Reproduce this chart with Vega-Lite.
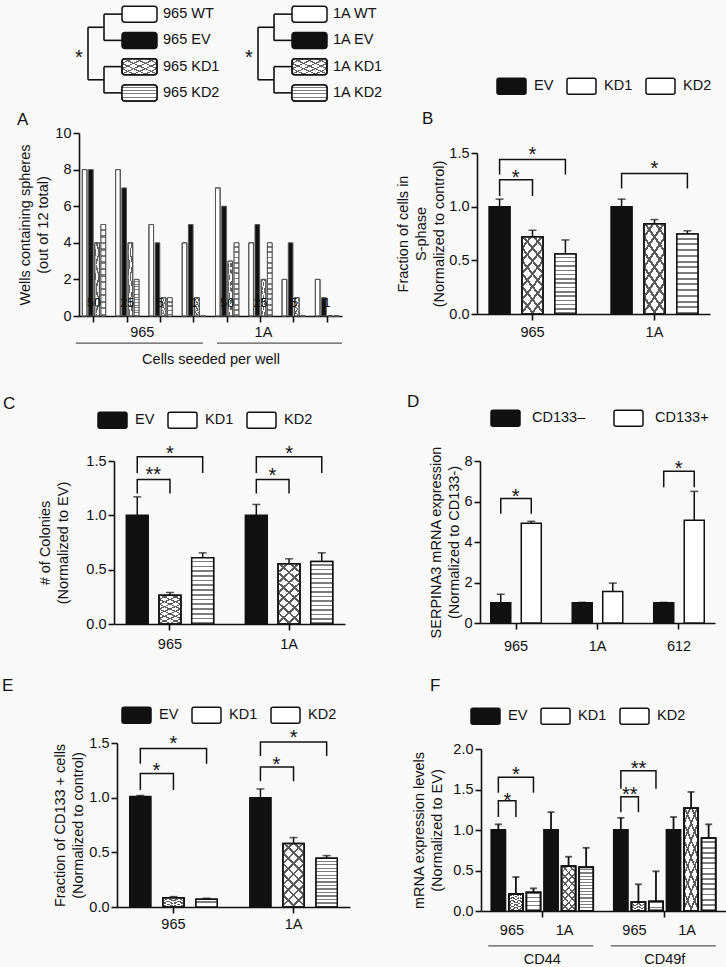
{
"$schema": "https://vega.github.io/schema/vega-lite/v6.json",
"background": "#f9f9f9",
"padding": {"left": 79, "top": 0, "right": 647, "bottom": 967},
"autosize": {"type": "none"},
"columns": 2,
"bounds": "flush",
"align": "each",
"spacing": {"row": 0, "column": 127},
"resolve": {"scale": {"fill": "independent", "xOffset": "independent"}, "legend": {"fill": "independent"}},
"params": [
  {"name": "gStripes", "value": {"gradient": "linear", "x1": 0, "y1": 0, "x2": 0, "y2": 1, "stops": [
      {"offset":0,"color":"#ffffff"},{"offset":0.0464,"color":"#ffffff"},{"offset":0.0464,"color":"#7d7d7d"},{"offset":0.0714,"color":"#7d7d7d"},
      {"offset":0.0714,"color":"#ffffff"},{"offset":0.1178,"color":"#ffffff"},{"offset":0.1178,"color":"#7d7d7d"},{"offset":0.1429,"color":"#7d7d7d"},
      {"offset":0.1429,"color":"#ffffff"},{"offset":0.1893,"color":"#ffffff"},{"offset":0.1893,"color":"#7d7d7d"},{"offset":0.2143,"color":"#7d7d7d"},
      {"offset":0.2143,"color":"#ffffff"},{"offset":0.2607,"color":"#ffffff"},{"offset":0.2607,"color":"#7d7d7d"},{"offset":0.2857,"color":"#7d7d7d"},
      {"offset":0.2857,"color":"#ffffff"},{"offset":0.3321,"color":"#ffffff"},{"offset":0.3321,"color":"#7d7d7d"},{"offset":0.3571,"color":"#7d7d7d"},
      {"offset":0.3571,"color":"#ffffff"},{"offset":0.4035,"color":"#ffffff"},{"offset":0.4035,"color":"#7d7d7d"},{"offset":0.4286,"color":"#7d7d7d"},
      {"offset":0.4286,"color":"#ffffff"},{"offset":0.475,"color":"#ffffff"},{"offset":0.475,"color":"#7d7d7d"},{"offset":0.5,"color":"#7d7d7d"},
      {"offset":0.5,"color":"#ffffff"},{"offset":0.5464,"color":"#ffffff"},{"offset":0.5464,"color":"#7d7d7d"},{"offset":0.5714,"color":"#7d7d7d"},
      {"offset":0.5714,"color":"#ffffff"},{"offset":0.6178,"color":"#ffffff"},{"offset":0.6178,"color":"#7d7d7d"},{"offset":0.6429,"color":"#7d7d7d"},
      {"offset":0.6429,"color":"#ffffff"},{"offset":0.6893,"color":"#ffffff"},{"offset":0.6893,"color":"#7d7d7d"},{"offset":0.7143,"color":"#7d7d7d"},
      {"offset":0.7143,"color":"#ffffff"},{"offset":0.7607,"color":"#ffffff"},{"offset":0.7607,"color":"#7d7d7d"},{"offset":0.7857,"color":"#7d7d7d"},
      {"offset":0.7857,"color":"#ffffff"},{"offset":0.8321,"color":"#ffffff"},{"offset":0.8321,"color":"#7d7d7d"},{"offset":0.8571,"color":"#7d7d7d"},
      {"offset":0.8571,"color":"#ffffff"},{"offset":0.9035,"color":"#ffffff"},{"offset":0.9035,"color":"#7d7d7d"},{"offset":0.9286,"color":"#7d7d7d"},
      {"offset":0.9286,"color":"#ffffff"},{"offset":0.975,"color":"#ffffff"},{"offset":0.975,"color":"#7d7d7d"},{"offset":1,"color":"#7d7d7d"}]}},
  {"name": "gStripesS", "value": {"gradient": "linear", "x1": 0, "y1": 0, "x2": 0, "y2": 1, "stops": [
      {"offset":0,"color":"#ffffff"},{"offset":0.13,"color":"#ffffff"},{"offset":0.13,"color":"#7d7d7d"},{"offset":0.2,"color":"#7d7d7d"},
      {"offset":0.2,"color":"#ffffff"},{"offset":0.33,"color":"#ffffff"},{"offset":0.33,"color":"#7d7d7d"},{"offset":0.4,"color":"#7d7d7d"},
      {"offset":0.4,"color":"#ffffff"},{"offset":0.53,"color":"#ffffff"},{"offset":0.53,"color":"#7d7d7d"},{"offset":0.6,"color":"#7d7d7d"},
      {"offset":0.6,"color":"#ffffff"},{"offset":0.73,"color":"#ffffff"},{"offset":0.73,"color":"#7d7d7d"},{"offset":0.8,"color":"#7d7d7d"},
      {"offset":0.8,"color":"#ffffff"},{"offset":0.93,"color":"#ffffff"},{"offset":0.93,"color":"#7d7d7d"},{"offset":1,"color":"#7d7d7d"}]}},
  {"name": "gHatch1", "value": {"gradient": "linear", "x1": 0, "y1": 0, "x2": 1, "y2": 1, "stops": [
      {"offset":0,"color":"rgba(255,255,255,0)"},{"offset":0.13,"color":"rgba(255,255,255,0)"},{"offset":0.13,"color":"#606060"},{"offset":0.1667,"color":"#606060"},
      {"offset":0.1667,"color":"rgba(255,255,255,0)"},{"offset":0.2967,"color":"rgba(255,255,255,0)"},{"offset":0.2967,"color":"#606060"},{"offset":0.3333,"color":"#606060"},
      {"offset":0.3333,"color":"rgba(255,255,255,0)"},{"offset":0.4633,"color":"rgba(255,255,255,0)"},{"offset":0.4633,"color":"#606060"},{"offset":0.5,"color":"#606060"},
      {"offset":0.5,"color":"rgba(255,255,255,0)"},{"offset":0.63,"color":"rgba(255,255,255,0)"},{"offset":0.63,"color":"#606060"},{"offset":0.6667,"color":"#606060"},
      {"offset":0.6667,"color":"rgba(255,255,255,0)"},{"offset":0.7967,"color":"rgba(255,255,255,0)"},{"offset":0.7967,"color":"#606060"},{"offset":0.8333,"color":"#606060"},
      {"offset":0.8333,"color":"rgba(255,255,255,0)"},{"offset":0.9633,"color":"rgba(255,255,255,0)"},{"offset":0.9633,"color":"#606060"},{"offset":1,"color":"#606060"}]}},
  {"name": "gHatch2", "value": {"gradient": "linear", "x1": 1, "y1": 0, "x2": 0, "y2": 1, "stops": [
      {"offset":0,"color":"rgba(255,255,255,0)"},{"offset":0.13,"color":"rgba(255,255,255,0)"},{"offset":0.13,"color":"#606060"},{"offset":0.1667,"color":"#606060"},
      {"offset":0.1667,"color":"rgba(255,255,255,0)"},{"offset":0.2967,"color":"rgba(255,255,255,0)"},{"offset":0.2967,"color":"#606060"},{"offset":0.3333,"color":"#606060"},
      {"offset":0.3333,"color":"rgba(255,255,255,0)"},{"offset":0.4633,"color":"rgba(255,255,255,0)"},{"offset":0.4633,"color":"#606060"},{"offset":0.5,"color":"#606060"},
      {"offset":0.5,"color":"rgba(255,255,255,0)"},{"offset":0.63,"color":"rgba(255,255,255,0)"},{"offset":0.63,"color":"#606060"},{"offset":0.6667,"color":"#606060"},
      {"offset":0.6667,"color":"rgba(255,255,255,0)"},{"offset":0.7967,"color":"rgba(255,255,255,0)"},{"offset":0.7967,"color":"#606060"},{"offset":0.8333,"color":"#606060"},
      {"offset":0.8333,"color":"rgba(255,255,255,0)"},{"offset":0.9633,"color":"rgba(255,255,255,0)"},{"offset":0.9633,"color":"#606060"},{"offset":1,"color":"#606060"}]}},
  {"name": "gHatchT1", "value": {"gradient": "linear", "x1": 0, "y1": 0, "x2": 0.4, "y2": 1.2, "stops": [
      {"offset":0,"color":"rgba(255,255,255,0)"},{"offset":0.094,"color":"rgba(255,255,255,0)"},{"offset":0.094,"color":"#5a5a5a"},{"offset":0.125,"color":"#5a5a5a"},
      {"offset":0.125,"color":"rgba(255,255,255,0)"},{"offset":0.219,"color":"rgba(255,255,255,0)"},{"offset":0.219,"color":"#5a5a5a"},{"offset":0.25,"color":"#5a5a5a"},
      {"offset":0.25,"color":"rgba(255,255,255,0)"},{"offset":0.344,"color":"rgba(255,255,255,0)"},{"offset":0.344,"color":"#5a5a5a"},{"offset":0.375,"color":"#5a5a5a"},
      {"offset":0.375,"color":"rgba(255,255,255,0)"},{"offset":0.469,"color":"rgba(255,255,255,0)"},{"offset":0.469,"color":"#5a5a5a"},{"offset":0.5,"color":"#5a5a5a"},
      {"offset":0.5,"color":"rgba(255,255,255,0)"},{"offset":0.594,"color":"rgba(255,255,255,0)"},{"offset":0.594,"color":"#5a5a5a"},{"offset":0.625,"color":"#5a5a5a"},
      {"offset":0.625,"color":"rgba(255,255,255,0)"},{"offset":0.719,"color":"rgba(255,255,255,0)"},{"offset":0.719,"color":"#5a5a5a"},{"offset":0.75,"color":"#5a5a5a"},
      {"offset":0.75,"color":"rgba(255,255,255,0)"},{"offset":0.844,"color":"rgba(255,255,255,0)"},{"offset":0.844,"color":"#5a5a5a"},{"offset":0.875,"color":"#5a5a5a"},
      {"offset":0.875,"color":"rgba(255,255,255,0)"},{"offset":0.969,"color":"rgba(255,255,255,0)"},{"offset":0.969,"color":"#5a5a5a"},{"offset":1,"color":"#5a5a5a"}]}},
  {"name": "gHatchT2", "value": {"gradient": "linear", "x1": 1, "y1": 0, "x2": 0.6, "y2": 1.2, "stops": [
      {"offset":0,"color":"rgba(255,255,255,0)"},{"offset":0.094,"color":"rgba(255,255,255,0)"},{"offset":0.094,"color":"#5a5a5a"},{"offset":0.125,"color":"#5a5a5a"},
      {"offset":0.125,"color":"rgba(255,255,255,0)"},{"offset":0.219,"color":"rgba(255,255,255,0)"},{"offset":0.219,"color":"#5a5a5a"},{"offset":0.25,"color":"#5a5a5a"},
      {"offset":0.25,"color":"rgba(255,255,255,0)"},{"offset":0.344,"color":"rgba(255,255,255,0)"},{"offset":0.344,"color":"#5a5a5a"},{"offset":0.375,"color":"#5a5a5a"},
      {"offset":0.375,"color":"rgba(255,255,255,0)"},{"offset":0.469,"color":"rgba(255,255,255,0)"},{"offset":0.469,"color":"#5a5a5a"},{"offset":0.5,"color":"#5a5a5a"},
      {"offset":0.5,"color":"rgba(255,255,255,0)"},{"offset":0.594,"color":"rgba(255,255,255,0)"},{"offset":0.594,"color":"#5a5a5a"},{"offset":0.625,"color":"#5a5a5a"},
      {"offset":0.625,"color":"rgba(255,255,255,0)"},{"offset":0.719,"color":"rgba(255,255,255,0)"},{"offset":0.719,"color":"#5a5a5a"},{"offset":0.75,"color":"#5a5a5a"},
      {"offset":0.75,"color":"rgba(255,255,255,0)"},{"offset":0.844,"color":"rgba(255,255,255,0)"},{"offset":0.844,"color":"#5a5a5a"},{"offset":0.875,"color":"#5a5a5a"},
      {"offset":0.875,"color":"rgba(255,255,255,0)"},{"offset":0.969,"color":"rgba(255,255,255,0)"},{"offset":0.969,"color":"#5a5a5a"},{"offset":1,"color":"#5a5a5a"}]}}
],
"config": {
  "font": "Liberation Sans",
  "view": {"stroke": null},
  "axis": {"domainColor": "#111111", "domainWidth": 1.6, "tickColor": "#111111", "tickWidth": 1.6, "tickSize": 6, "labelFont": "Liberation Sans", "labelFontSize": 14.5, "labelColor": "#111111", "labelPadding": 2, "titleFont": "Liberation Sans", "titleFontSize": 14.5, "titleFontWeight": "normal", "titleColor": "#111111", "titleLineHeight": 18, "grid": false, "labelAngle": 0},
  "legend": {"orient": "none", "direction": "horizontal", "columns": 3, "symbolType": "M-0.86,-0.55L0.86,-0.55Q1,-0.55,1,-0.41L1,0.41Q1,0.55,0.86,0.55L-0.86,0.55Q-1,0.55,-1,0.41L-1,-0.41Q-1,-0.55,-0.86,-0.55Z", "symbolSize": 841, "labelOffset": 7, "columnPadding": 10, "symbolStrokeColor": "#111111", "symbolStrokeWidth": 1.5, "labelFont": "Liberation Sans", "labelFontSize": 14.5, "labelColor": "#111111", "padding": 0},
  "title": {"font": "Liberation Sans", "fontSize": 17, "fontWeight": "normal", "color": "#111111", "anchor": "start", "frame": "group", "baseline": "middle"},
  "text": {"font": "Liberation Sans", "color": "#111111", "fontSize": 14.5}
},
"datasets": {
  "den": [
    {"line":"965","cond":"WT","label":"965 WT"},{"line":"965","cond":"EV","label":"965 EV"},{"line":"965","cond":"KD1","label":"965 KD1"},{"line":"965","cond":"KD2","label":"965 KD2"},
    {"line":"1A","cond":"WT","label":"1A WT"},{"line":"1A","cond":"EV","label":"1A EV"},{"line":"1A","cond":"KD1","label":"1A KD1"},{"line":"1A","cond":"KD2","label":"1A KD2"}],
  "denm": [
    {"line":"965","a":"WT","b":"EV","lvl":"mid"},{"line":"965","a":"KD1","b":"KD2","lvl":"mid"},{"line":"965","a":"EV","b":"KD2","lvl":"root"},
    {"line":"1A","a":"WT","b":"EV","lvl":"mid"},{"line":"1A","a":"KD1","b":"KD2","lvl":"mid"},{"line":"1A","a":"EV","b":"KD2","lvl":"root"}],
  "A": [
    {"grp":"965|50","line":"965","count":"50","cond":"WT","val":8},{"grp":"965|50","line":"965","count":"50","cond":"EV","val":8},{"grp":"965|50","line":"965","count":"50","cond":"KD1","val":4},{"grp":"965|50","line":"965","count":"50","cond":"KD2","val":5},
    {"grp":"965|25","line":"965","count":"25","cond":"WT","val":8},{"grp":"965|25","line":"965","count":"25","cond":"EV","val":7},{"grp":"965|25","line":"965","count":"25","cond":"KD1","val":4},{"grp":"965|25","line":"965","count":"25","cond":"KD2","val":2},
    {"grp":"965|5","line":"965","count":"5","cond":"WT","val":5},{"grp":"965|5","line":"965","count":"5","cond":"EV","val":4},{"grp":"965|5","line":"965","count":"5","cond":"KD1","val":1},{"grp":"965|5","line":"965","count":"5","cond":"KD2","val":1},
    {"grp":"965|1","line":"965","count":"1","cond":"WT","val":4},{"grp":"965|1","line":"965","count":"1","cond":"EV","val":5},{"grp":"965|1","line":"965","count":"1","cond":"KD1","val":1},{"grp":"965|1","line":"965","count":"1","cond":"KD2","val":0},
    {"grp":"1A|50","line":"1A","count":"50","cond":"WT","val":7},{"grp":"1A|50","line":"1A","count":"50","cond":"EV","val":6},{"grp":"1A|50","line":"1A","count":"50","cond":"KD1","val":3},{"grp":"1A|50","line":"1A","count":"50","cond":"KD2","val":4},
    {"grp":"1A|25","line":"1A","count":"25","cond":"WT","val":4},{"grp":"1A|25","line":"1A","count":"25","cond":"EV","val":5},{"grp":"1A|25","line":"1A","count":"25","cond":"KD1","val":2},{"grp":"1A|25","line":"1A","count":"25","cond":"KD2","val":4},
    {"grp":"1A|5","line":"1A","count":"5","cond":"WT","val":2},{"grp":"1A|5","line":"1A","count":"5","cond":"EV","val":4},{"grp":"1A|5","line":"1A","count":"5","cond":"KD1","val":1},{"grp":"1A|5","line":"1A","count":"5","cond":"KD2","val":0},
    {"grp":"1A|1","line":"1A","count":"1","cond":"WT","val":2},{"grp":"1A|1","line":"1A","count":"1","cond":"EV","val":1},{"grp":"1A|1","line":"1A","count":"1","cond":"KD1","val":0},{"grp":"1A|1","line":"1A","count":"1","cond":"KD2","val":0}],
  "B": [
    {"line":"965","cond":"EV","val":1.0,"err":1.07},{"line":"965","cond":"KD1","val":0.72,"err":0.78},{"line":"965","cond":"KD2","val":0.56,"err":0.69},
    {"line":"1A","cond":"EV","val":1.0,"err":1.07},{"line":"1A","cond":"KD1","val":0.84,"err":0.88},{"line":"1A","cond":"KD2","val":0.745,"err":0.775}],
  "Bbr": [
    {"bid":"b1","line":"965","cond":"EV","yv":1.10,"k":0},{"bid":"b1","line":"965","cond":"EV","yv":1.25,"k":1},{"bid":"b1","line":"965","cond":"KD1","yv":1.25,"k":2},{"bid":"b1","line":"965","cond":"KD1","yv":1.10,"k":3},
    {"bid":"b2","line":"965","cond":"EV","yv":1.30,"k":0},{"bid":"b2","line":"965","cond":"EV","yv":1.44,"k":1},{"bid":"b2","line":"965","cond":"KD2","yv":1.44,"k":2},{"bid":"b2","line":"965","cond":"KD2","yv":1.30,"k":3},
    {"bid":"b3","line":"1A","cond":"EV","yv":1.17,"k":0},{"bid":"b3","line":"1A","cond":"EV","yv":1.31,"k":1},{"bid":"b3","line":"1A","cond":"KD2","yv":1.31,"k":2},{"bid":"b3","line":"1A","cond":"KD2","yv":1.17,"k":3}],
  "Bst": [
    {"line":"965","cond":"EV","sy":1.32,"s":"*","kind":"half"},{"line":"965","cond":"KD1","sy":1.54,"s":"*","kind":"mid"},{"line":"1A","cond":"KD1","sy":1.41,"s":"*","kind":"mid"}],
  "C": [
    {"line":"965","cond":"EV","val":1.0,"err":1.17},{"line":"965","cond":"KD1","val":0.265,"err":0.29},{"line":"965","cond":"KD2","val":0.61,"err":0.655},
    {"line":"1A","cond":"EV","val":1.0,"err":1.10},{"line":"1A","cond":"KD1","val":0.555,"err":0.60},{"line":"1A","cond":"KD2","val":0.575,"err":0.655}],
  "Cbr": [
    {"bid":"c1","line":"965","cond":"EV","yv":1.20,"k":0},{"bid":"c1","line":"965","cond":"EV","yv":1.33,"k":1},{"bid":"c1","line":"965","cond":"KD1","yv":1.33,"k":2},{"bid":"c1","line":"965","cond":"KD1","yv":1.20,"k":3},
    {"bid":"c2","line":"965","cond":"EV","yv":1.39,"k":0},{"bid":"c2","line":"965","cond":"EV","yv":1.54,"k":1},{"bid":"c2","line":"965","cond":"KD2","yv":1.54,"k":2},{"bid":"c2","line":"965","cond":"KD2","yv":1.39,"k":3},
    {"bid":"c3","line":"1A","cond":"EV","yv":1.20,"k":0},{"bid":"c3","line":"1A","cond":"EV","yv":1.33,"k":1},{"bid":"c3","line":"1A","cond":"KD1","yv":1.33,"k":2},{"bid":"c3","line":"1A","cond":"KD1","yv":1.20,"k":3},
    {"bid":"c4","line":"1A","cond":"EV","yv":1.39,"k":0},{"bid":"c4","line":"1A","cond":"EV","yv":1.54,"k":1},{"bid":"c4","line":"1A","cond":"KD2","yv":1.54,"k":2},{"bid":"c4","line":"1A","cond":"KD2","yv":1.39,"k":3}],
  "Cst": [
    {"line":"965","cond":"EV","sy":1.43,"s":"**","kind":"half"},{"line":"965","cond":"KD1","sy":1.62,"s":"*","kind":"mid"},
    {"line":"1A","cond":"EV","sy":1.42,"s":"*","kind":"half"},{"line":"1A","cond":"KD1","sy":1.62,"s":"*","kind":"mid"}],
  "D": [
    {"line":"965","cond":"CD133–","val":1.0,"err":1.42},{"line":"965","cond":"CD133+","val":4.93,"err":5.02},
    {"line":"1A","cond":"CD133–","val":1.0,"err":1.02},{"line":"1A","cond":"CD133+","val":1.55,"err":1.97},
    {"line":"612","cond":"CD133–","val":1.0,"err":1.02},{"line":"612","cond":"CD133+","val":5.07,"err":6.5}],
  "Dbr": [
    {"bid":"d1","line":"965","cond":"CD133–","yv":5.4,"k":0},{"bid":"d1","line":"965","cond":"CD133–","yv":6.15,"k":1},{"bid":"d1","line":"965","cond":"CD133+","yv":6.15,"k":2},{"bid":"d1","line":"965","cond":"CD133+","yv":5.4,"k":3},
    {"bid":"d2","line":"612","cond":"CD133–","yv":6.7,"k":0},{"bid":"d2","line":"612","cond":"CD133–","yv":7.5,"k":1},{"bid":"d2","line":"612","cond":"CD133+","yv":7.5,"k":2},{"bid":"d2","line":"612","cond":"CD133+","yv":6.7,"k":3}],
  "Dst": [
    {"line":"965","cond":"CD133–","sy":6.5,"s":"*","kind":"half"},{"line":"612","cond":"CD133–","sy":7.9,"s":"*","kind":"half"}],
  "E": [
    {"line":"965","cond":"EV","val":1.01,"err":1.02},{"line":"965","cond":"KD1","val":0.085,"err":0.095},{"line":"965","cond":"KD2","val":0.07,"err":0.08},
    {"line":"1A","cond":"EV","val":1.0,"err":1.08},{"line":"1A","cond":"KD1","val":0.58,"err":0.635},{"line":"1A","cond":"KD2","val":0.445,"err":0.47}],
  "Ebr": [
    {"bid":"e1","line":"965","cond":"EV","yv":1.07,"k":0},{"bid":"e1","line":"965","cond":"EV","yv":1.22,"k":1},{"bid":"e1","line":"965","cond":"KD1","yv":1.22,"k":2},{"bid":"e1","line":"965","cond":"KD1","yv":1.07,"k":3},
    {"bid":"e2","line":"965","cond":"EV","yv":1.31,"k":0},{"bid":"e2","line":"965","cond":"EV","yv":1.45,"k":1},{"bid":"e2","line":"965","cond":"KD2","yv":1.45,"k":2},{"bid":"e2","line":"965","cond":"KD2","yv":1.31,"k":3},
    {"bid":"e3","line":"1A","cond":"EV","yv":1.15,"k":0},{"bid":"e3","line":"1A","cond":"EV","yv":1.28,"k":1},{"bid":"e3","line":"1A","cond":"KD1","yv":1.28,"k":2},{"bid":"e3","line":"1A","cond":"KD1","yv":1.15,"k":3},
    {"bid":"e4","line":"1A","cond":"EV","yv":1.38,"k":0},{"bid":"e4","line":"1A","cond":"EV","yv":1.51,"k":1},{"bid":"e4","line":"1A","cond":"KD2","yv":1.51,"k":2},{"bid":"e4","line":"1A","cond":"KD2","yv":1.38,"k":3}],
  "Est": [
    {"line":"965","cond":"EV","sy":1.30,"s":"*","kind":"half"},{"line":"965","cond":"KD1","sy":1.55,"s":"*","kind":"mid"},
    {"line":"1A","cond":"EV","sy":1.35,"s":"*","kind":"half"},{"line":"1A","cond":"KD1","sy":1.60,"s":"*","kind":"mid"}],
  "F": [
    {"gene":"CD44","cc":"965|EV","cell":"965","cond":"EV","val":1.0,"err":1.07},
    {"gene":"CD44","cc":"965|KD1","cell":"965","cond":"KD1","val":0.21,"err":0.42},
    {"gene":"CD44","cc":"965|KD2","cell":"965","cond":"KD2","val":0.23,"err":0.28},
    {"gene":"CD44","cc":"1A|EV","cell":"1A","cond":"EV","val":1.0,"err":1.22},
    {"gene":"CD44","cc":"1A|KD1","cell":"1A","cond":"KD1","val":0.555,"err":0.67},
    {"gene":"CD44","cc":"1A|KD2","cell":"1A","cond":"KD2","val":0.54,"err":0.78},
    {"gene":"CD49f","cc":"965|EV","cell":"965","cond":"EV","val":1.0,"err":1.15},
    {"gene":"CD49f","cc":"965|KD1","cell":"965","cond":"KD1","val":0.11,"err":0.33},
    {"gene":"CD49f","cc":"965|KD2","cell":"965","cond":"KD2","val":0.12,"err":0.49},
    {"gene":"CD49f","cc":"1A|EV","cell":"1A","cond":"EV","val":1.0,"err":1.16},
    {"gene":"CD49f","cc":"1A|KD1","cell":"1A","cond":"KD1","val":1.27,"err":1.47},
    {"gene":"CD49f","cc":"1A|KD2","cell":"1A","cond":"KD2","val":0.90,"err":1.07}],
  "Fbr": [
    {"bid":"f1","gene":"CD44","cc":"965|EV","yv":1.16,"k":0},{"bid":"f1","gene":"CD44","cc":"965|EV","yv":1.36,"k":1},{"bid":"f1","gene":"CD44","cc":"965|KD1","yv":1.36,"k":2},{"bid":"f1","gene":"CD44","cc":"965|KD1","yv":1.16,"k":3},
    {"bid":"f2","gene":"CD44","cc":"965|EV","yv":1.46,"k":0},{"bid":"f2","gene":"CD44","cc":"965|EV","yv":1.65,"k":1},{"bid":"f2","gene":"CD44","cc":"965|KD2","yv":1.65,"k":2},{"bid":"f2","gene":"CD44","cc":"965|KD2","yv":1.46,"k":3},
    {"bid":"f3","gene":"CD49f","cc":"965|EV","yv":1.22,"k":0},{"bid":"f3","gene":"CD49f","cc":"965|EV","yv":1.41,"k":1},{"bid":"f3","gene":"CD49f","cc":"965|KD1","yv":1.41,"k":2},{"bid":"f3","gene":"CD49f","cc":"965|KD1","yv":1.22,"k":3},
    {"bid":"f4","gene":"CD49f","cc":"965|EV","yv":1.51,"k":0},{"bid":"f4","gene":"CD49f","cc":"965|EV","yv":1.73,"k":1},{"bid":"f4","gene":"CD49f","cc":"965|KD2","yv":1.73,"k":2},{"bid":"f4","gene":"CD49f","cc":"965|KD2","yv":1.51,"k":3}],
  "Fst": [
    {"gene":"CD44","cc":"965|EV","sy":1.43,"s":"*","kind":"half"},{"gene":"CD44","cc":"965|KD1","sy":1.75,"s":"*","kind":"mid"},
    {"gene":"CD49f","cc":"965|EV","sy":1.51,"s":"**","kind":"half"},{"gene":"CD49f","cc":"965|KD1","sy":1.83,"s":"**","kind":"mid"}]
},
"concat": [
  {
    "width": 271, "height": 133,
    "encoding": {"x": {"field": "line", "type": "nominal", "scale": {"domain": ["965","1A"], "range": [-9, 331], "paddingInner": 0, "paddingOuter": 0}, "axis": null}},
    "layer": [
      {"data": {"name": "den"}, "mark": {"type": "bar", "width": 35, "height": 16, "xOffset": -15.5, "cornerRadius": 3, "stroke": "#111111", "strokeWidth": 1.5},
       "encoding": {"y": {"field": "cond", "type": "nominal", "scale": {"domain": ["WT","EV","KD1","KD2"], "range": [1, 106], "paddingInner": 0, "paddingOuter": 0}, "axis": null},
                    "fill": {"field": "cond", "type": "nominal", "scale": {"domain": ["WT","EV","KD1","KD2"], "range": ["#ffffff","#111111","#ffffff","#ffffff"]}, "legend": null}}},
      {"data": {"name": "den"}, "transform": [{"filter": "datum.cond === 'KD2'"}], "mark": {"type": "bar", "width": 35, "height": 16, "xOffset": -15.5, "cornerRadius": 3, "fill": {"expr": "gStripesS"}}, "encoding": {"y": {"field": "cond", "type": "nominal", "axis": null}}},
      {"data": {"name": "den"}, "transform": [{"filter": "datum.cond === 'KD1'"}], "mark": {"type": "bar", "width": 35, "height": 16, "xOffset": -15.5, "cornerRadius": 3, "fill": {"expr": "gHatch1"}}, "encoding": {"y": {"field": "cond", "type": "nominal", "axis": null}}},
      {"data": {"name": "den"}, "transform": [{"filter": "datum.cond === 'KD1'"}], "mark": {"type": "bar", "width": 35, "height": 16, "xOffset": -15.5, "cornerRadius": 3, "fill": {"expr": "gHatch2"}}, "encoding": {"y": {"field": "cond", "type": "nominal", "axis": null}}},
      {"data": {"name": "den"}, "transform": [{"filter": "datum.cond === 'KD1' || datum.cond === 'KD2'"}], "mark": {"type": "bar", "width": 35, "height": 16, "xOffset": -15.5, "cornerRadius": 3, "fill": "transparent", "stroke": "#111111", "strokeWidth": 1.5}, "encoding": {"y": {"field": "cond", "type": "nominal", "axis": null}}},
      {"data": {"name": "den"}, "mark": {"type": "text", "align": "left", "baseline": "middle", "dx": 8, "fontSize": 14.5}, "encoding": {"y": {"field": "cond", "type": "nominal", "axis": null}, "text": {"field": "label"}}},
      {"data": {"name": "den"}, "mark": {"type": "bar", "width": 18, "height": 1.6, "xOffset": -42, "fill": "#111111"}, "encoding": {"y": {"field": "cond", "type": "nominal", "axis": null}}},
      {"data": {"name": "denm"}, "transform": [{"filter": "datum.lvl === 'mid'"}], "mark": {"type": "rule", "xOffset": -51, "strokeWidth": 1.6, "color": "#111111"}, "encoding": {"y": {"field": "a", "type": "nominal", "axis": null}, "y2": {"field": "b"}}},
      {"data": {"name": "denm"}, "transform": [{"filter": "datum.lvl === 'root'"}], "mark": {"type": "bar", "width": 16, "height": 1.6, "xOffset": -59, "yOffset": -13.1, "fill": "#111111"}, "encoding": {"y": {"field": "a", "type": "nominal", "axis": null}}},
      {"data": {"name": "denm"}, "transform": [{"filter": "datum.lvl === 'root'"}], "mark": {"type": "bar", "width": 16, "height": 1.6, "xOffset": -59, "yOffset": -13.1, "fill": "#111111"}, "encoding": {"y": {"field": "b", "type": "nominal", "axis": null}}},
      {"data": {"name": "denm"}, "transform": [{"filter": "datum.lvl === 'root'"}], "mark": {"type": "rule", "xOffset": -67, "yOffset": -13.1, "y2Offset": -13.1, "strokeWidth": 1.6, "color": "#111111"}, "encoding": {"y": {"field": "a", "type": "nominal", "axis": null}, "y2": {"field": "b"}}},
      {"data": {"name": "den"}, "transform": [{"filter": "datum.cond === 'KD1'"}], "mark": {"type": "text", "text": "*", "xOffset": -76, "yOffset": -13.1, "dy": 4, "baseline": "middle", "fontSize": 20}, "encoding": {"y": {"field": "cond", "type": "nominal", "axis": null}}}
    ]
  },
  {
    "width": 249, "height": 133,
    "data": {"values": []},
    "mark": "point"
  },
  {
    "width": 271, "height": 328,
    "title": {"text": "A", "dx": -62, "offset": -4},
    "data": {"name": "A"},
    "encoding": {"x": {"field": "grp", "type": "nominal", "scale": {"domain": ["965|50","965|25","965|5","965|1","1A|50","1A|25","1A|5","1A|1"], "range": [0, 263], "paddingInner": 0.3, "paddingOuter": 0.1}, "axis": {"labels": false, "title": "Cells seeded per well", "titlePadding": 30, "offset": -145}}},
    "layer": [
      {"mark": {"type": "bar", "stroke": "#555555", "strokeWidth": 1},
       "encoding": {"xOffset": {"field": "cond", "type": "nominal", "scale": {"domain": ["WT","EV","KD1","KD2"], "paddingInner": 0.25, "paddingOuter": 0}},
                    "y": {"field": "val", "type": "quantitative", "scale": {"domain": [0, 10], "range": [183, 0], "nice": false}, "axis": {"values": [0,2,4,6,8,10], "title": ["Wells containing spheres", "(out of 12 total)"], "titlePadding": 4, "titleLineHeight": 18}},
                    "fill": {"field": "cond", "type": "nominal", "scale": {"domain": ["WT","EV","KD1","KD2"], "range": ["#ffffff","#111111","#ffffff","#ffffff"]}, "legend": null}}},
      {"transform": [{"filter": "datum.cond === 'KD2'"}], "mark": {"type": "bar", "fill": {"expr": "gStripes"}}, "encoding": {"xOffset": {"field": "cond", "type": "nominal"}, "y": {"field": "val", "type": "quantitative"}}},
      {"transform": [{"filter": "datum.cond === 'KD1'"}], "mark": {"type": "bar", "fill": {"expr": "gHatch1"}}, "encoding": {"xOffset": {"field": "cond", "type": "nominal"}, "y": {"field": "val", "type": "quantitative"}}},
      {"transform": [{"filter": "datum.cond === 'KD1'"}], "mark": {"type": "bar", "fill": {"expr": "gHatch2"}}, "encoding": {"xOffset": {"field": "cond", "type": "nominal"}, "y": {"field": "val", "type": "quantitative"}}},
      {"transform": [{"filter": "datum.cond !== 'EV'"}], "mark": {"type": "bar", "fill": "transparent", "stroke": "#555555", "strokeWidth": 1}, "encoding": {"xOffset": {"field": "cond", "type": "nominal"}, "y": {"field": "val", "type": "quantitative"}}},
      {"transform": [{"filter": "datum.cond === 'EV'"}], "mark": {"type": "text", "fontSize": 12.5, "baseline": "middle"}, "encoding": {"y": {"datum": 0.72, "type": "quantitative"}, "text": {"field": "count"}}},
      {"transform": [{"filter": "datum.cond === 'EV' && datum.grp === '965|25'"}], "mark": {"type": "text", "baseline": "middle", "dx": 15}, "encoding": {"y": {"datum": -0.93, "type": "quantitative"}, "text": {"field": "line"}}},
      {"transform": [{"filter": "datum.cond === 'EV' && datum.grp === '1A|25'"}], "mark": {"type": "text", "baseline": "middle", "dx": 3}, "encoding": {"y": {"datum": -0.93, "type": "quantitative"}, "text": {"field": "line"}}},
      {"transform": [{"filter": "datum.cond === 'EV' && datum.grp === '965|25'"}], "mark": {"type": "tick", "orient": "horizontal", "size": 127, "thickness": 1.2, "xOffset": 12, "color": "#111111"}, "encoding": {"y": {"datum": -1.48, "type": "quantitative"}}},
      {"transform": [{"filter": "datum.cond === 'EV' && datum.grp === '1A|25'"}], "mark": {"type": "tick", "orient": "horizontal", "size": 125, "thickness": 1.2, "xOffset": 19, "color": "#111111"}, "encoding": {"y": {"datum": -1.48, "type": "quantitative"}}}
    ]
  },
  {
    "width": 249, "height": 328,
    "title": {"text": "B", "dx": -55, "offset": -57},
    "encoding": {"x": {"field": "line", "type": "nominal", "scale": {"domain": ["965","1A"], "range": [0, 233], "paddingInner": 0.25, "paddingOuter": 0.08}, "axis": {"title": null, "labelPadding": 5, "offset": -147}}},
    "layer": [
      {"data": {"name": "B"}, "mark": {"type": "bar", "stroke": "#111111", "strokeWidth": 1.5},
       "encoding": {"xOffset": {"field": "cond", "type": "nominal", "scale": {"domain": ["EV","KD1","KD2"], "paddingInner": 0.36, "paddingOuter": 0.07}},
                    "y": {"field": "val", "type": "quantitative", "scale": {"domain": [0, 1.5], "range": [181, 20], "nice": false}, "axis": {"values": [0,0.5,1,1.5], "format": ".1f", "title": ["Fraction of cells in", "S-phase", "(Normalized to control)"], "titlePadding": 2, "titleLineHeight": 18}},
                    "fill": {"field": "cond", "type": "nominal", "scale": {"domain": ["EV","KD1","KD2"], "range": ["#111111","#ffffff","#ffffff"]}, "legend": {"title": null, "legendX": 19, "legendY": -62.5, "encode": {"symbols": {"update": {"fill": {"value": {"expr": "datum.value === 'KD2' ? gStripesS : datum.value === 'KD1' ? gHatch1 : datum.value === 'EV' ? '#111111' : '#ffffff'"}}, "stroke": {"value": "#111111"}, "strokeWidth": {"value": 1.5}}}}}}}},
      {"data": {"name": "B"}, "transform": [{"filter": "datum.cond === 'KD2'"}], "mark": {"type": "bar", "fill": {"expr": "gStripes"}}, "encoding": {"xOffset": {"field": "cond", "type": "nominal"}, "y": {"field": "val", "type": "quantitative"}}},
      {"data": {"name": "B"}, "transform": [{"filter": "datum.cond === 'KD1'"}], "mark": {"type": "bar", "fill": {"expr": "gHatchT1"}}, "encoding": {"xOffset": {"field": "cond", "type": "nominal"}, "y": {"field": "val", "type": "quantitative"}}},
      {"data": {"name": "B"}, "transform": [{"filter": "datum.cond === 'KD1'"}], "mark": {"type": "bar", "fill": {"expr": "gHatchT2"}}, "encoding": {"xOffset": {"field": "cond", "type": "nominal"}, "y": {"field": "val", "type": "quantitative"}}},
      {"data": {"name": "B"}, "transform": [{"filter": "datum.cond !== 'EV'"}], "mark": {"type": "bar", "fill": "transparent", "stroke": "#111111", "strokeWidth": 1.5}, "encoding": {"xOffset": {"field": "cond", "type": "nominal"}, "y": {"field": "val", "type": "quantitative"}}},
      {"data": {"name": "B"}, "mark": {"type": "rule", "color": "#111111", "strokeWidth": 1.5}, "encoding": {"xOffset": {"field": "cond", "type": "nominal"}, "y": {"field": "val", "type": "quantitative"}, "y2": {"field": "err"}}},
      {"data": {"name": "B"}, "mark": {"type": "tick", "orient": "horizontal", "size": 8, "thickness": 1.5, "color": "#111111"}, "encoding": {"xOffset": {"field": "cond", "type": "nominal"}, "y": {"field": "err", "type": "quantitative"}}},
      {"data": {"name": "Bbr"}, "mark": {"type": "line", "color": "#111111", "strokeWidth": 1.5, "strokeJoin": "miter"}, "encoding": {"xOffset": {"field": "cond", "type": "nominal"}, "y": {"field": "yv", "type": "quantitative"}, "detail": {"field": "bid", "type": "nominal"}, "order": {"field": "k", "type": "quantitative"}}},
      {"data": {"name": "Bst"}, "transform": [{"filter": "datum.kind === 'mid'"}], "mark": {"type": "text", "fontSize": 20, "baseline": "middle", "dy": 6}, "encoding": {"xOffset": {"field": "cond", "type": "nominal"}, "y": {"field": "sy", "type": "quantitative"}, "text": {"field": "s"}}},
      {"data": {"name": "Bst"}, "transform": [{"filter": "datum.kind === 'half'"}], "mark": {"type": "text", "fontSize": 20, "baseline": "middle", "dy": 6, "dx": 16}, "encoding": {"xOffset": {"field": "cond", "type": "nominal"}, "y": {"field": "sy", "type": "quantitative"}, "text": {"field": "s"}}}
    ]
  },
  {
    "width": 271, "height": 282,
    "title": {"text": "C", "dx": -76, "offset": -8},
    "encoding": {"x": {"field": "line", "type": "nominal", "scale": {"domain": ["965","1A"], "range": [35, 266], "paddingInner": 0.25, "paddingOuter": 0.095}, "axis": {"title": null, "labelPadding": 7, "offset": -119}}},
    "layer": [
      {"data": {"name": "C"}, "mark": {"type": "bar", "stroke": "#111111", "strokeWidth": 1.5},
       "encoding": {"xOffset": {"field": "cond", "type": "nominal", "scale": {"domain": ["EV","KD1","KD2"], "paddingInner": 0.33, "paddingOuter": 0.03}},
                    "y": {"field": "val", "type": "quantitative", "scale": {"domain": [0, 1.5], "range": [163, 0], "nice": false}, "axis": {"values": [0,0.5,1,1.5], "format": ".1f", "title": ["# of Colonies", "(Normalized to EV)"], "titlePadding": 15, "titleLineHeight": 18, "offset": -35}},
                    "fill": {"field": "cond", "type": "nominal", "scale": {"domain": ["EV","KD1","KD2"], "range": ["#111111","#ffffff","#ffffff"]}, "legend": {"title": null, "legendX": 18, "legendY": -56.5, "encode": {"symbols": {"update": {"fill": {"value": {"expr": "datum.value === 'KD2' ? gStripesS : datum.value === 'KD1' ? gHatch1 : datum.value === 'EV' ? '#111111' : '#ffffff'"}}, "stroke": {"value": "#111111"}, "strokeWidth": {"value": 1.5}}}}}}}},
      {"data": {"name": "C"}, "transform": [{"filter": "datum.cond === 'KD2'"}], "mark": {"type": "bar", "fill": {"expr": "gStripes"}}, "encoding": {"xOffset": {"field": "cond", "type": "nominal"}, "y": {"field": "val", "type": "quantitative"}}},
      {"data": {"name": "C"}, "transform": [{"filter": "datum.cond === 'KD1'"}], "mark": {"type": "bar", "fill": {"expr": "gHatchT1"}}, "encoding": {"xOffset": {"field": "cond", "type": "nominal"}, "y": {"field": "val", "type": "quantitative"}}},
      {"data": {"name": "C"}, "transform": [{"filter": "datum.cond === 'KD1'"}], "mark": {"type": "bar", "fill": {"expr": "gHatchT2"}}, "encoding": {"xOffset": {"field": "cond", "type": "nominal"}, "y": {"field": "val", "type": "quantitative"}}},
      {"data": {"name": "C"}, "transform": [{"filter": "datum.cond !== 'EV'"}], "mark": {"type": "bar", "fill": "transparent", "stroke": "#111111", "strokeWidth": 1.5}, "encoding": {"xOffset": {"field": "cond", "type": "nominal"}, "y": {"field": "val", "type": "quantitative"}}},
      {"data": {"name": "C"}, "mark": {"type": "rule", "color": "#111111", "strokeWidth": 1.5}, "encoding": {"xOffset": {"field": "cond", "type": "nominal"}, "y": {"field": "val", "type": "quantitative"}, "y2": {"field": "err"}}},
      {"data": {"name": "C"}, "mark": {"type": "tick", "orient": "horizontal", "size": 8, "thickness": 1.5, "color": "#111111"}, "encoding": {"xOffset": {"field": "cond", "type": "nominal"}, "y": {"field": "err", "type": "quantitative"}}},
      {"data": {"name": "Cbr"}, "mark": {"type": "line", "color": "#111111", "strokeWidth": 1.5, "strokeJoin": "miter"}, "encoding": {"xOffset": {"field": "cond", "type": "nominal"}, "y": {"field": "yv", "type": "quantitative"}, "detail": {"field": "bid", "type": "nominal"}, "order": {"field": "k", "type": "quantitative"}}},
      {"data": {"name": "Cst"}, "transform": [{"filter": "datum.kind === 'mid'"}], "mark": {"type": "text", "fontSize": 20, "baseline": "middle", "dy": 6}, "encoding": {"xOffset": {"field": "cond", "type": "nominal"}, "y": {"field": "sy", "type": "quantitative"}, "text": {"field": "s"}}},
      {"data": {"name": "Cst"}, "transform": [{"filter": "datum.kind === 'half'"}], "mark": {"type": "text", "fontSize": 20, "baseline": "middle", "dy": 6, "dx": 16}, "encoding": {"xOffset": {"field": "cond", "type": "nominal"}, "y": {"field": "sy", "type": "quantitative"}, "text": {"field": "s"}}}
    ]
  },
  {
    "width": 249, "height": 282,
    "title": {"text": "D", "dx": -70, "offset": -8},
    "encoding": {"x": {"field": "line", "type": "nominal", "scale": {"domain": ["965","1A","612"], "range": [3, 238], "paddingInner": 0.2, "paddingOuter": 0.042}, "axis": {"title": null, "labelPadding": 10, "offset": -120}}},
    "layer": [
      {"data": {"name": "D"}, "mark": {"type": "bar", "stroke": "#111111", "strokeWidth": 1.5},
       "encoding": {"xOffset": {"field": "cond", "type": "nominal", "scale": {"domain": ["CD133–","CD133+"], "paddingInner": 0.344, "paddingOuter": 0.24}},
                    "y": {"field": "val", "type": "quantitative", "scale": {"domain": [0, 8], "range": [162, 0], "nice": false}, "axis": {"values": [0,2,4,6,8], "title": ["SERPINA3 mRNA expression", "(Normalized to CD133-)"], "titlePadding": 2, "titleLineHeight": 18, "offset": -3}},
                    "fill": {"field": "cond", "type": "nominal", "scale": {"domain": ["CD133–","CD133+"], "range": ["#111111","#ffffff"]}, "legend": {"title": null, "legendX": 13, "legendY": -58.5, "labelOffset": 11, "columnPadding": 25}}}},
      {"data": {"name": "D"}, "mark": {"type": "rule", "color": "#111111", "strokeWidth": 1.5}, "encoding": {"xOffset": {"field": "cond", "type": "nominal"}, "y": {"field": "val", "type": "quantitative"}, "y2": {"field": "err"}}},
      {"data": {"name": "D"}, "mark": {"type": "tick", "orient": "horizontal", "size": 8, "thickness": 1.5, "color": "#111111"}, "encoding": {"xOffset": {"field": "cond", "type": "nominal"}, "y": {"field": "err", "type": "quantitative"}}},
      {"data": {"name": "Dbr"}, "mark": {"type": "line", "color": "#111111", "strokeWidth": 1.5, "strokeJoin": "miter"}, "encoding": {"xOffset": {"field": "cond", "type": "nominal"}, "y": {"field": "yv", "type": "quantitative"}, "detail": {"field": "bid", "type": "nominal"}, "order": {"field": "k", "type": "quantitative"}}},
      {"data": {"name": "Dst"}, "mark": {"type": "text", "fontSize": 20, "baseline": "middle", "dy": 6, "dx": 15}, "encoding": {"xOffset": {"field": "cond", "type": "nominal"}, "y": {"field": "sy", "type": "quantitative"}, "text": {"field": "s"}}}
    ]
  },
  {
    "width": 271, "height": 168,
    "title": {"text": "E", "dx": -77, "offset": 4.5},
    "encoding": {"x": {"field": "line", "type": "nominal", "scale": {"domain": ["965","1A"], "range": [38, 271], "paddingInner": 0.25, "paddingOuter": 0.095}, "axis": {"title": null, "labelPadding": 4, "offset": -4}}},
    "layer": [
      {"data": {"name": "E"}, "mark": {"type": "bar", "stroke": "#111111", "strokeWidth": 1.5},
       "encoding": {"xOffset": {"field": "cond", "type": "nominal", "scale": {"domain": ["EV","KD1","KD2"], "paddingInner": 0.36, "paddingOuter": 0.04}},
                    "y": {"field": "val", "type": "quantitative", "scale": {"domain": [0, 1.5], "range": [164, 0], "nice": false}, "axis": {"values": [0,0.5,1,1.5], "format": ".1f", "title": ["Fraction of CD133 + cells", "(Normalized to control)"], "titlePadding": 3, "titleLineHeight": 18, "offset": -38}},
                    "fill": {"field": "cond", "type": "nominal", "scale": {"domain": ["EV","KD1","KD2"], "range": ["#111111","#ffffff","#ffffff"]}, "legend": {"title": null, "legendX": 42, "legendY": -43.5, "encode": {"symbols": {"update": {"fill": {"value": {"expr": "datum.value === 'KD2' ? gStripesS : datum.value === 'KD1' ? gHatch1 : datum.value === 'EV' ? '#111111' : '#ffffff'"}}, "stroke": {"value": "#111111"}, "strokeWidth": {"value": 1.5}}}}}}}},
      {"data": {"name": "E"}, "transform": [{"filter": "datum.cond === 'KD2'"}], "mark": {"type": "bar", "fill": {"expr": "gStripes"}}, "encoding": {"xOffset": {"field": "cond", "type": "nominal"}, "y": {"field": "val", "type": "quantitative"}}},
      {"data": {"name": "E"}, "transform": [{"filter": "datum.cond === 'KD1'"}], "mark": {"type": "bar", "fill": {"expr": "gHatchT1"}}, "encoding": {"xOffset": {"field": "cond", "type": "nominal"}, "y": {"field": "val", "type": "quantitative"}}},
      {"data": {"name": "E"}, "transform": [{"filter": "datum.cond === 'KD1'"}], "mark": {"type": "bar", "fill": {"expr": "gHatchT2"}}, "encoding": {"xOffset": {"field": "cond", "type": "nominal"}, "y": {"field": "val", "type": "quantitative"}}},
      {"data": {"name": "E"}, "transform": [{"filter": "datum.cond !== 'EV'"}], "mark": {"type": "bar", "fill": "transparent", "stroke": "#111111", "strokeWidth": 1.5}, "encoding": {"xOffset": {"field": "cond", "type": "nominal"}, "y": {"field": "val", "type": "quantitative"}}},
      {"data": {"name": "E"}, "mark": {"type": "rule", "color": "#111111", "strokeWidth": 1.5}, "encoding": {"xOffset": {"field": "cond", "type": "nominal"}, "y": {"field": "val", "type": "quantitative"}, "y2": {"field": "err"}}},
      {"data": {"name": "E"}, "mark": {"type": "tick", "orient": "horizontal", "size": 8, "thickness": 1.5, "color": "#111111"}, "encoding": {"xOffset": {"field": "cond", "type": "nominal"}, "y": {"field": "err", "type": "quantitative"}}},
      {"data": {"name": "Ebr"}, "mark": {"type": "line", "color": "#111111", "strokeWidth": 1.5, "strokeJoin": "miter"}, "encoding": {"xOffset": {"field": "cond", "type": "nominal"}, "y": {"field": "yv", "type": "quantitative"}, "detail": {"field": "bid", "type": "nominal"}, "order": {"field": "k", "type": "quantitative"}}},
      {"data": {"name": "Est"}, "transform": [{"filter": "datum.kind === 'mid'"}], "mark": {"type": "text", "fontSize": 20, "baseline": "middle", "dy": 6}, "encoding": {"xOffset": {"field": "cond", "type": "nominal"}, "y": {"field": "sy", "type": "quantitative"}, "text": {"field": "s"}}},
      {"data": {"name": "Est"}, "transform": [{"filter": "datum.kind === 'half'"}], "mark": {"type": "text", "fontSize": 20, "baseline": "middle", "dy": 6, "dx": 16}, "encoding": {"xOffset": {"field": "cond", "type": "nominal"}, "y": {"field": "sy", "type": "quantitative"}, "text": {"field": "s"}}}
    ]
  },
  {
    "width": 249, "height": 168,
    "title": {"text": "F", "dx": -47, "offset": 5.5},
    "encoding": {"x": {"field": "gene", "type": "nominal", "scale": {"domain": ["CD44","CD49f"], "range": [4, 249], "paddingInner": 0.14, "paddingOuter": 0.07}, "axis": {"title": null, "labelPadding": 35, "offset": 0}}},
    "layer": [
      {"data": {"name": "F"}, "mark": {"type": "bar", "stroke": "#111111", "strokeWidth": 1.8},
       "encoding": {"xOffset": {"field": "cc", "type": "nominal", "scale": {"domain": ["965|EV","965|KD1","965|KD2","1A|EV","1A|KD1","1A|KD2"], "paddingInner": 0.2, "paddingOuter": 0.1}},
                    "y": {"field": "val", "type": "quantitative", "scale": {"domain": [0, 2], "range": [168, 6], "nice": false}, "axis": {"values": [0,0.5,1,1.5,2], "format": ".1f", "title": ["mRNA expression levels", "(Normalized to EV)"], "titlePadding": 8, "titleLineHeight": 18, "offset": -4}},
                    "fill": {"field": "cond", "type": "nominal", "scale": {"domain": ["EV","KD1","KD2"], "range": ["#111111","#ffffff","#ffffff"]}, "legend": {"title": null, "legendX": -7, "legendY": -42.5, "encode": {"symbols": {"update": {"fill": {"value": {"expr": "datum.value === 'KD2' ? gStripesS : datum.value === 'KD1' ? gHatch1 : datum.value === 'EV' ? '#111111' : '#ffffff'"}}, "stroke": {"value": "#111111"}, "strokeWidth": {"value": 1.5}}}}}}}},
      {"data": {"name": "F"}, "transform": [{"filter": "datum.cond === 'KD2'"}], "mark": {"type": "bar", "fill": {"expr": "gStripes"}}, "encoding": {"xOffset": {"field": "cc", "type": "nominal"}, "y": {"field": "val", "type": "quantitative"}}},
      {"data": {"name": "F"}, "transform": [{"filter": "datum.cond === 'KD1'"}], "mark": {"type": "bar", "fill": {"expr": "gHatchT1"}}, "encoding": {"xOffset": {"field": "cc", "type": "nominal"}, "y": {"field": "val", "type": "quantitative"}}},
      {"data": {"name": "F"}, "transform": [{"filter": "datum.cond === 'KD1'"}], "mark": {"type": "bar", "fill": {"expr": "gHatchT2"}}, "encoding": {"xOffset": {"field": "cc", "type": "nominal"}, "y": {"field": "val", "type": "quantitative"}}},
      {"data": {"name": "F"}, "transform": [{"filter": "datum.cond !== 'EV'"}], "mark": {"type": "bar", "fill": "transparent", "stroke": "#111111", "strokeWidth": 1.8}, "encoding": {"xOffset": {"field": "cc", "type": "nominal"}, "y": {"field": "val", "type": "quantitative"}}},
      {"data": {"name": "F"}, "mark": {"type": "rule", "color": "#111111", "strokeWidth": 1.8}, "encoding": {"xOffset": {"field": "cc", "type": "nominal"}, "y": {"field": "val", "type": "quantitative"}, "y2": {"field": "err"}}},
      {"data": {"name": "F"}, "mark": {"type": "tick", "orient": "horizontal", "size": 7, "thickness": 1.8, "color": "#111111"}, "encoding": {"xOffset": {"field": "cc", "type": "nominal"}, "y": {"field": "err", "type": "quantitative"}}},
      {"data": {"name": "Fbr"}, "mark": {"type": "line", "color": "#111111", "strokeWidth": 1.5, "strokeJoin": "miter"}, "encoding": {"xOffset": {"field": "cc", "type": "nominal"}, "y": {"field": "yv", "type": "quantitative"}, "detail": {"field": "bid", "type": "nominal"}, "order": {"field": "k", "type": "quantitative"}}},
      {"data": {"name": "Fst"}, "transform": [{"filter": "datum.kind === 'mid'"}], "mark": {"type": "text", "fontSize": 20, "baseline": "middle", "dy": 6}, "encoding": {"xOffset": {"field": "cc", "type": "nominal"}, "y": {"field": "sy", "type": "quantitative"}, "text": {"field": "s"}}},
      {"data": {"name": "Fst"}, "transform": [{"filter": "datum.kind === 'half'"}], "mark": {"type": "text", "fontSize": 20, "baseline": "middle", "dy": 6, "dx": 9}, "encoding": {"xOffset": {"field": "cc", "type": "nominal"}, "y": {"field": "sy", "type": "quantitative"}, "text": {"field": "s"}}},
      {"data": {"name": "F"}, "transform": [{"filter": "datum.cond === 'KD1'"}], "mark": {"type": "text", "baseline": "middle", "dx": -4}, "encoding": {"xOffset": {"field": "cc", "type": "nominal"}, "y": {"datum": -0.25, "type": "quantitative"}, "text": {"field": "cell"}}},
      {"data": {"name": "F"}, "transform": [{"filter": "datum.cc === '965|EV'"}], "mark": {"type": "tick", "orient": "horizontal", "size": 105, "thickness": 1.2, "xOffset": -1.5, "color": "#111111"}, "encoding": {"y": {"datum": -0.43, "type": "quantitative"}}}
    ]
  }
]
}
